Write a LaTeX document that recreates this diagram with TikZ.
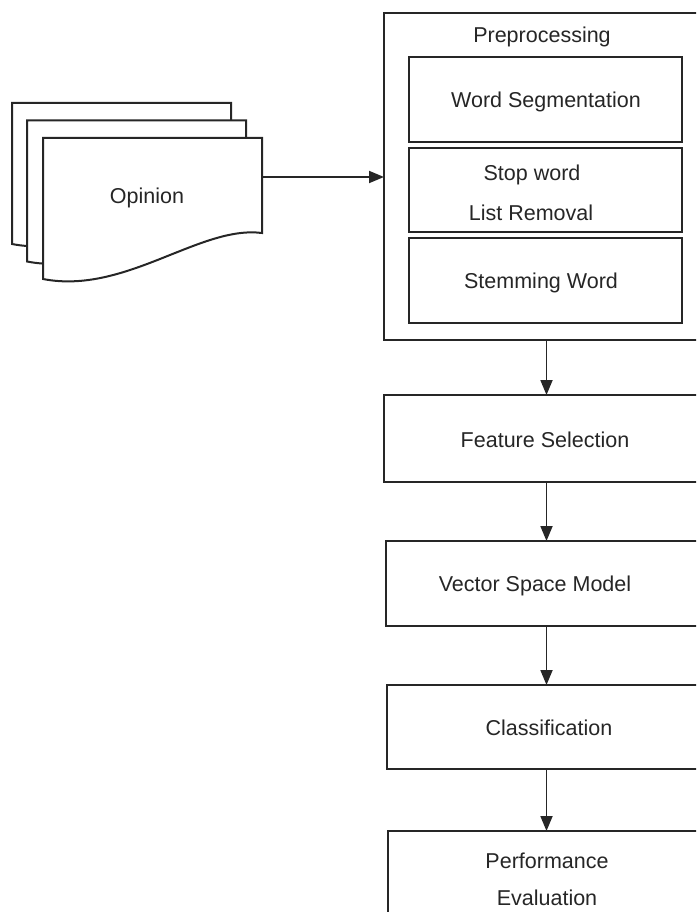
\documentclass[tikz,border=0pt]{standalone}
\usepackage{fontspec}
\setmainfont{Liberation Sans}
\usetikzlibrary{arrows.meta}
\definecolor{ink}{HTML}{262626}
\begin{document}
\begin{tikzpicture}[x=1pt,y=-1pt,
  line width=2pt, draw=ink,
  box/.style={draw=ink, line width=2pt, fill=white, anchor=north west,
    inner sep=0pt, outer sep=0pt},
  lbl/.style={text=ink, font=\fontsize{21.5}{26}\selectfont, inner sep=0pt},
  flow/.style={draw=ink, line width=1.8pt, -{Triangle[length=15pt,width=12pt]}},
  doc/.style={draw=ink, line width=2pt, fill=white, line join=miter}]
\useasboundingbox (0,0) rectangle (696,912);
\begin{scope}
\clip (0,0) rectangle (696,912);

% stack of three opinion documents, back to front
\foreach \dx/\dy in {12/103, 27/120.5, 43/138}{
  \path[doc] (\dx,\dy) -- ++(219,0) -- ++(0,95)
    .. controls +(-62,-8) and +(82,16) .. ++(-219,46) -- cycle;
}
\node[lbl] (opinion) at (147,198) {Opinion};
\coordinate (docR) at (262,177);

% preprocessing block and its three steps
\node[box, minimum width=323pt, minimum height=327pt] (pre) at (384,13) {};
\node[lbl] (pretitle) at (542,37) {Preprocessing};
\node[box, minimum width=273pt, minimum height=85pt] (ws) at (409,57) {};
\node[box, minimum width=273pt, minimum height=84pt] (sw) at (409,148) {};
\node[box, minimum width=273pt, minimum height=85pt] (st) at (409,238) {};
\node[lbl] (wstext) at (546,102) {Word Segmentation};
\node[lbl] (swtext1) at (532,175) {Stop word};
\node[lbl] (swtext2) at (531,213) {List Removal};
\node[lbl] (sttext) at (541,283) {Stemming Word};

% main pipeline
\node[box, minimum width=323pt, minimum height=87pt] (fs) at (384,395) {};
\node[lbl] (fstext) at (545,440) {Feature Selection};
\node[box, minimum width=321pt, minimum height=85pt] (vsm) at (386,541) {};
\node[lbl] (vsmtext) at (535,586) {Vector Space Model};
\node[box, minimum width=320pt, minimum height=84pt] (cls) at (387,685) {};
\node[lbl] (clstext) at (549,728) {Classification};
\node[box, minimum width=319pt, minimum height=110pt] (pe) at (388,831) {};
\node[lbl] (petext1) at (547,861) {Performance};
\node[lbl] (petext2) at (547,898) {Evaluation};

% connectors
\draw[flow] (docR) -- (docR -| pre.west);
\coordinate (ax) at (546.5,0);
\draw[flow] (ax |- pre.south) -- (ax |- fs.north);
\draw[flow] (ax |- fs.south) -- (ax |- vsm.north);
\draw[flow] (ax |- vsm.south) -- (ax |- cls.north);
\draw[flow] (ax |- cls.south) -- (ax |- pe.north);
\end{scope}
\end{tikzpicture}
\end{document}
